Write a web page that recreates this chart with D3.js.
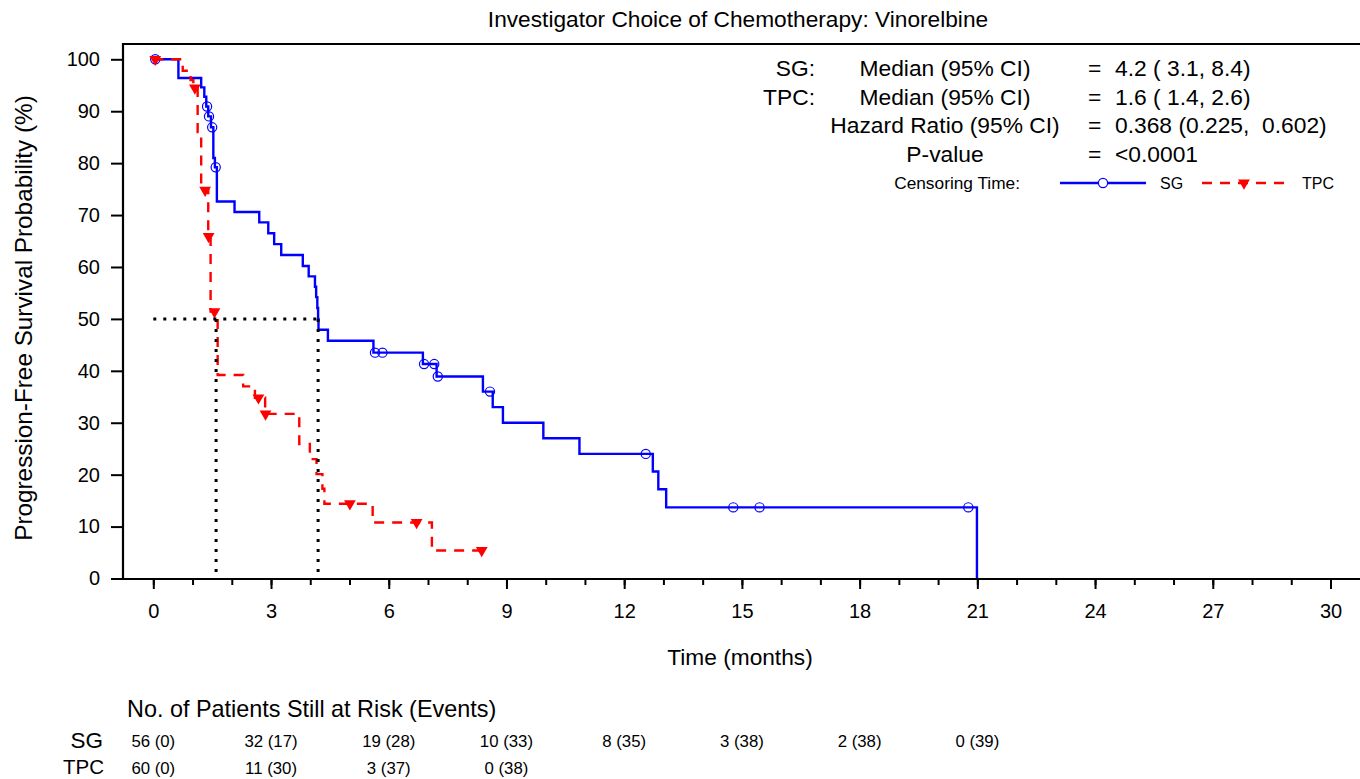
<!DOCTYPE html>
<html>
<head>
<meta charset="utf-8">
<script src="https://cdn.jsdelivr.net/npm/d3@7"></script>
<style>
  html, body { margin: 0; padding: 0; background: #fff; }
  svg { display: block; font-family: "Liberation Sans", Arial, sans-serif; }
</style>
</head>
<body>
<svg id="chart" width="1360" height="779"></svg>
<script>
// Kaplan-Meier step points (time in months, survival in %) and censoring times
const sgTimes = [0.64, 1.22, 1.30, 1.35, 1.40, 1.47, 1.53, 1.57, 1.62, 2.07, 2.70, 2.93, 3.08, 3.26, 3.81, 3.96, 4.12, 4.15, 4.18, 4.20, 4.21, 4.45, 5.61, 6.87, 7.22, 8.40, 8.65, 8.91, 9.94, 10.86, 12.73, 12.87, 13.07, 20.99];
const sgSurv  = [96.4, 94.6, 92.8, 90.9, 89.0, 86.9, 81.0, 79.2, 72.6, 70.6, 68.6, 66.5, 64.4, 62.3, 60.2, 58.2, 56.2, 54.2, 52.1, 50.0, 47.9, 45.8, 43.5, 41.3, 38.9, 36.0, 33.0, 30.0, 27.0, 24.0, 20.6, 17.2, 13.7, 0];
const sgCensor = [0.05, 1.37, 1.42, 1.50, 1.59, 5.65, 5.84, 6.90, 7.16, 7.25, 8.58, 12.55, 14.78, 15.45, 20.77];

const tpcTimes = [0.75, 0.95, 1.02, 1.13, 1.22, 1.40, 1.46, 1.64, 2.29, 2.59, 2.85, 3.72, 3.99, 4.16, 4.31, 4.36, 5.59, 7.10];
const tpcSurv  = [97.8, 96.0, 94.5, 86.0, 74.8, 65.9, 51.4, 39.2, 37.0, 34.8, 31.7, 25.9, 23.0, 20.1, 17.3, 14.4, 10.8, 5.4];
const tpcCensor = [0.05, 1.06, 1.32, 1.41, 1.56, 2.68, 2.86, 5.01, 6.71, 8.37];

const sgMedian = 4.2;
const tpcMedian = 1.6;

const xTicks = [0, 3, 6, 9, 12, 15, 18, 21, 24, 27, 30];
const xMinorTicks = d3.range(0, 31, 1);
const yTicks = [0, 10, 20, 30, 40, 50, 60, 70, 80, 90, 100];

const riskTimes = [0, 3, 6, 9, 12, 15, 18, 21];
const sgAtRisk = [56, 32, 19, 10, 8, 3, 2, 0];
const sgEvents = [0, 17, 28, 33, 35, 38, 38, 39];
const tpcAtRisk = [60, 11, 3, 0];
const tpcEvents = [0, 30, 37, 38];

const statLabels = ["SG:", "TPC:", "", ""];
const statNames = ["Median (95% CI)", "Median (95% CI)", "Hazard Ratio (95% CI)", "P-value"];
const statValues = ["4.2 ( 3.1, 8.4)", "1.6 ( 1.4, 2.6)", "0.368 (0.225,  0.602)", "<0.0001"];

const BLUE = "#0000ff", RED = "#ff0000";

const svg = d3.select("#chart");
const x = d3.scaleLinear().domain([0, 30]).range([153.3, 1330.5]);
const y = d3.scaleLinear().domain([0, 100]).range([578.5, 59.3]);

const frameLeft = 123, frameTop = 44, frameBottom = 579, frameRight = 1362;

// Title
svg.append("text").attr("x", 738).attr("y", 27).attr("text-anchor", "middle")
  .attr("font-size", 22.7).text("Investigator Choice of Chemotherapy: Vinorelbine");

// Step-function helpers
function stepPath(times, surv, endTime) {
  const pts = [[0, 100]];
  let s = 100;
  times.forEach((t, i) => { pts.push([t, s]); s = surv[i]; pts.push([t, s]); });
  if (endTime > times[times.length - 1]) pts.push([endTime, s]);
  return d3.line().x(d => x(d[0])).y(d => y(d[1]))(pts);
}
function survAt(times, surv, t) {
  let s = 100;
  times.forEach((tt, i) => { if (tt <= t) s = surv[i]; });
  return s;
}

// Curves
const plot = svg.append("g");
plot.append("path").attr("d", stepPath(sgTimes, sgSurv, d3.max(sgCensor)))
  .attr("fill", "none").attr("stroke", BLUE).attr("stroke-width", 2.4);
plot.selectAll("circle.sg").data(sgCensor).join("circle").attr("class", "sg")
  .attr("cx", d => x(d)).attr("cy", d => y(survAt(sgTimes, sgSurv, d)))
  .attr("r", 4.6).attr("fill", "none").attr("stroke", BLUE).attr("stroke-width", 1.2);

plot.append("path").attr("d", stepPath(tpcTimes, tpcSurv, d3.max(tpcCensor)))
  .attr("fill", "none").attr("stroke", RED).attr("stroke-width", 2.4)
  .attr("stroke-dasharray", "10,8");
const tri = d3.symbol().type(d3.symbolTriangle).size(60);
plot.selectAll("path.tpc").data(tpcCensor).join("path").attr("class", "tpc")
  .attr("d", tri)
  .attr("transform", d => `translate(${x(d)},${y(survAt(tpcTimes, tpcSurv, d))}) rotate(180)`)
  .attr("fill", RED);

// Median reference lines
const med = svg.append("g").attr("stroke", "#000").attr("stroke-width", 3)
  .attr("stroke-dasharray", "3,7").attr("fill", "none");
med.append("line").attr("x1", x(0)).attr("x2", x(sgMedian)).attr("y1", y(50)).attr("y2", y(50));
[tpcMedian, sgMedian].forEach(m => {
  med.append("line").attr("x1", x(m)).attr("x2", x(m)).attr("y1", y(50)).attr("y2", y(0));
});

// Axes
const xAxisMinor = d3.axisBottom(x).tickValues(xMinorTicks).tickSize(6).tickFormat("");
const xAxis = d3.axisBottom(x).tickValues(xTicks).tickSize(10).tickPadding(15);
const gxm = svg.append("g").attr("transform", `translate(0,${frameBottom})`).call(xAxisMinor);
const gx = svg.append("g").attr("transform", `translate(0,${frameBottom})`).call(xAxis);
[gx, gxm].forEach(g => {
  g.select(".domain").remove();
  g.selectAll(".tick line").attr("stroke-width", 2);
});
gx.selectAll(".tick text").attr("font-size", 20).attr("fill", "#000");

const yAxis = d3.axisLeft(y).tickValues(yTicks).tickSize(12).tickPadding(11);
const gy = svg.append("g").attr("transform", `translate(${frameLeft},0)`).call(yAxis);
gy.select(".domain").remove();
gy.selectAll(".tick line").attr("stroke-width", 2);
gy.selectAll(".tick text").attr("font-size", 20).attr("fill", "#000");

// Frame
svg.append("path")
  .attr("d", `M${frameRight},${frameTop}H${frameLeft}V${frameBottom}H${frameRight}`)
  .attr("fill", "none").attr("stroke", "#000").attr("stroke-width", 2.2);

// Axis titles
svg.append("text").attr("x", 740).attr("y", 665).attr("text-anchor", "middle")
  .attr("font-size", 22.7).text("Time (months)");
svg.append("text").attr("transform", "translate(32,318) rotate(-90)").attr("text-anchor", "middle")
  .attr("font-size", 24.3).text("Progression-Free Survival Probability (%)");

// Statistics block
const stats = svg.append("g").attr("font-size", 22.8);
statNames.forEach((name, i) => {
  const yy = 76 + i * 28.7;
  if (statLabels[i]) stats.append("text").attr("x", 815).attr("y", yy).attr("text-anchor", "end").text(statLabels[i]);
  stats.append("text").attr("x", 945).attr("y", yy).attr("text-anchor", "middle").text(name);
  stats.append("text").attr("x", 1088).attr("y", yy).text("=");
  stats.append("text").attr("x", 1115).attr("y", yy).attr("xml:space", "preserve").text(statValues[i]);
});

// Censoring legend
const lg = svg.append("g");
const lgY = 183;
lg.append("text").attr("x", 1020).attr("y", lgY + 6).attr("text-anchor", "end")
  .attr("font-size", 17.3).text("Censoring Time:");
lg.append("line").attr("x1", 1060).attr("x2", 1146).attr("y1", lgY).attr("y2", lgY)
  .attr("stroke", BLUE).attr("stroke-width", 2.4);
lg.append("circle").attr("cx", 1103).attr("cy", lgY).attr("r", 4.6)
  .attr("fill", "#fff").attr("stroke", BLUE).attr("stroke-width", 1.2);
lg.append("text").attr("x", 1160).attr("y", lgY + 6).attr("font-size", 16).text("SG");
lg.append("line").attr("x1", 1202).attr("x2", 1288).attr("y1", lgY).attr("y2", lgY)
  .attr("stroke", RED).attr("stroke-width", 2.4).attr("stroke-dasharray", "10,8");
lg.append("path").attr("d", tri).attr("transform", `translate(1244,${lgY}) rotate(180)`).attr("fill", RED);
lg.append("text").attr("x", 1302).attr("y", lgY + 6).attr("font-size", 16).text("TPC");

// Number at risk table
const risk = svg.append("g");
risk.append("text").attr("x", 127).attr("y", 717).attr("font-size", 23.4)
  .text("No. of Patients Still at Risk (Events)");
risk.append("text").attr("x", 103).attr("y", 748).attr("text-anchor", "end").attr("font-size", 22.5).text("SG");
risk.append("text").attr("x", 104).attr("y", 774).attr("text-anchor", "end").attr("font-size", 20.5).text("TPC");
risk.selectAll("text.sgr").data(sgAtRisk).join("text").attr("class", "sgr")
  .attr("x", (d, i) => x(riskTimes[i])).attr("y", 747).attr("text-anchor", "middle")
  .attr("font-size", 16.8).text((d, i) => `${d} (${sgEvents[i]})`);
risk.selectAll("text.tpcr").data(tpcAtRisk).join("text").attr("class", "tpcr")
  .attr("x", (d, i) => x(riskTimes[i])).attr("y", 774).attr("text-anchor", "middle")
  .attr("font-size", 16.8).text((d, i) => `${d} (${tpcEvents[i]})`);
</script>
</body>
</html>
